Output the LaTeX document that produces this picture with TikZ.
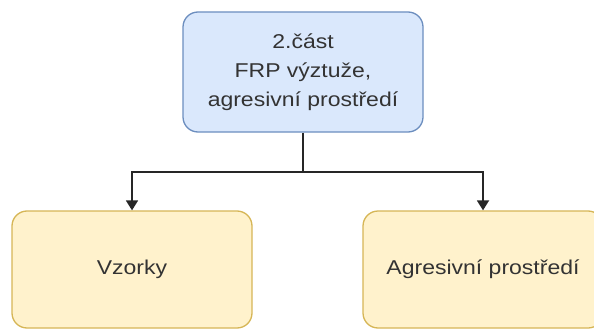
\documentclass[tikz,border=0pt]{standalone}
\usepackage{fontspec}
\setmainfont[FakeStretch=1.15]{Liberation Sans}
\usetikzlibrary{positioning,arrows.meta}
\definecolor{modraF}{HTML}{DAE8FC}\definecolor{modraD}{HTML}{6C8EBF}
\definecolor{zlutaF}{HTML}{FFF2CC}\definecolor{zlutaD}{HTML}{D6B656}
\tikzset{
  krabice/.style={rounded corners=15pt,line width=1.3pt,align=center,text=black!80,
    minimum width=240pt,inner sep=0pt,font=\fontsize{20}{29}\selectfont},
  hlavni/.style={krabice,fill=modraF,draw=modraD,minimum height=120pt},
  vetev/.style={krabice,fill=zlutaF,draw=zlutaD,minimum height=117pt},
  spoj/.style={line width=1.8pt,black!85,-{Triangle[length=10pt,width=12pt]}}
}
\begin{document}
\begin{tikzpicture}[x=1pt,y=-1pt]
\useasboundingbox (0,0) rectangle (594,329);
\node[hlavni] (cast) at (303,72) {2.část\\FRP výztuže,\\agresivní prostředí};
\node[vetev] (vzorky) at (132,269.5) {Vzorky};
\node[vetev] (prostredi) at (483,269.5) {Agresivní prostředí};
\coordinate (uzel) at (303,172);
\draw[spoj] (cast.south)--(uzel)-|(vzorky.north);
\draw[spoj] (uzel)-|(prostredi.north);
\end{tikzpicture}
\end{document}
